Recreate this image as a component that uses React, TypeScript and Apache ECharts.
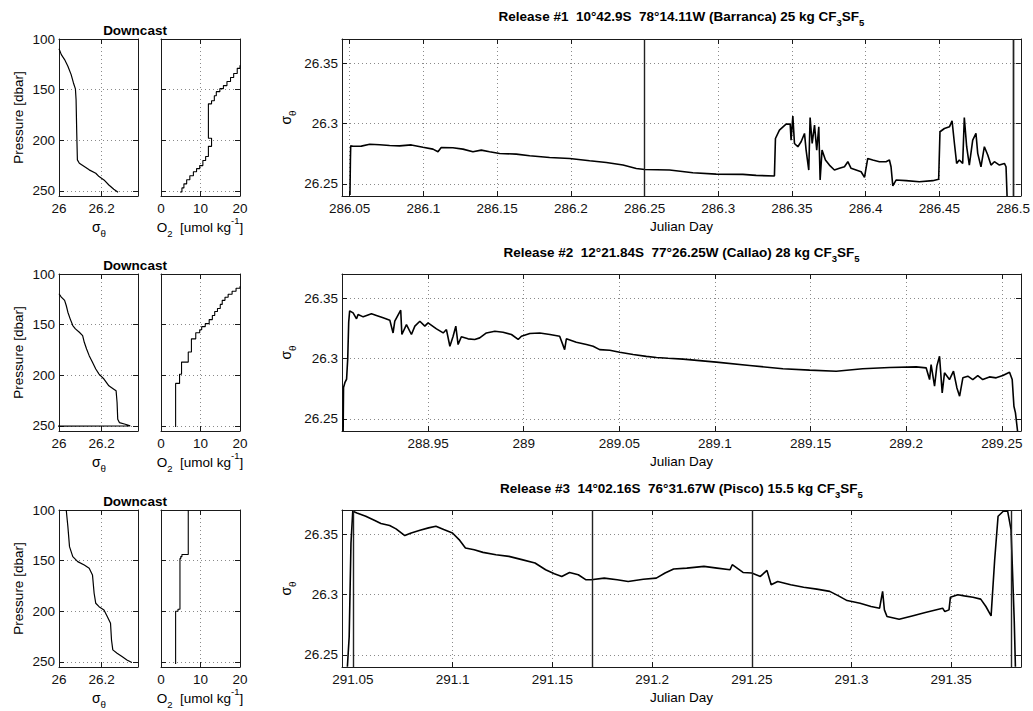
import React, { useEffect, useRef } from "react";
import * as echarts from "echarts";

const FONT = "'Liberation Sans', Arial, Helvetica, sans-serif";

// ---------------- data ----------------
const releaseTitles = [
  "Release #1  10°42.9S  78°14.11W (Barranca) 25 kg CF",
  "Release #2  12°21.84S  77°26.25W (Callao) 28 kg CF",
  "Release #3  14°02.16S  76°31.67W (Pisco) 15.5 kg CF",
];

const sigmaProfileTicks = [26, 26.2];
const pressureTicks = [100, 150, 200, 250];
const o2Ticks = [0, 10, 20];
const sigmaSeriesTicks = [26.25, 26.3, 26.35];
const release1DayTicks = [286.05, 286.1, 286.15, 286.2, 286.25, 286.3, 286.35, 286.4, 286.45, 286.5];
const release2DayTicks = [288.95, 289, 289.05, 289.1, 289.15, 289.2, 289.25];
const release3DayTicks = [291.05, 291.1, 291.15, 291.2, 291.25, 291.3, 291.35];

// [sigma_theta, pressure]
const profile1Sigma = [
  [26.0001, 109.7], [26.0109, 115.4], [26.0262, 120.3], [26.0416, 126.9], [26.0569, 135.2],
  [26.0677, 143.4], [26.0769, 149.3], [26.08, 159.9], [26.0831, 192.9], [26.0861, 219.3],
  [26.0953, 222.6], [26.1184, 225.9], [26.1414, 229.2], [26.1722, 232.5], [26.1875, 235.8],
  [26.2106, 239.1], [26.2336, 244.1], [26.2566, 248.3], [26.2766, 251.3],
];
const profile2Sigma = [
  [26.0001, 119.5], [26.0109, 122.8], [26.0262, 126.1], [26.0339, 131.1], [26.0416, 137.7],
  [26.0523, 144.3], [26.0646, 150.9], [26.0769, 154.2], [26.0953, 157.5], [26.1107, 160.8],
  [26.1184, 167.4], [26.1292, 174.0], [26.1414, 180.6], [26.1568, 187.2], [26.1722, 193.8],
  [26.1875, 198.8], [26.2106, 203.7], [26.2336, 210.4], [26.2566, 213.7], [26.2674, 215.3],
  [26.272, 226.9], [26.2751, 243.4], [26.2828, 246.7], [26.3104, 248.3], [26.3334, 250.0],
  [25.95, 250.3],
];
const profile3Sigma = [
  [26.0339, 100], [26.0416, 116.4], [26.0492, 136.2], [26.0569, 141.1], [26.0646, 146.0],
  [26.0877, 151.0], [26.1184, 154.3], [26.1414, 157.6], [26.1568, 164.1], [26.1645, 182.2],
  [26.1722, 192.1], [26.1875, 195.4], [26.2106, 198.7], [26.226, 205.2], [26.2413, 211.8],
  [26.2459, 228.3], [26.252, 238.1], [26.272, 241.4], [26.295, 244.7], [26.3181, 248.0],
  [26.3411, 250.6],
];

// [O2, pressure]
const profile1O2 = [
  [20.0, 126], [20.0, 129], [19.3, 129], [19.3, 134], [18.4, 134], [18.4, 138], [17.6, 138],
  [17.6, 142], [16.7, 142], [16.7, 146], [15.8, 146], [15.8, 149], [14.9, 149], [14.9, 152],
  [14.0, 152], [14.0, 156], [13.5, 156], [13.5, 161], [12.8, 161], [12.8, 164], [12.0, 164],
  [12.0, 198], [12.8, 198], [12.8, 206], [12.0, 206], [12.0, 216], [11.3, 216], [11.3, 220],
  [10.6, 220], [10.6, 225], [9.8, 225], [9.8, 228], [9.0, 228], [9.0, 231], [8.2, 231],
  [8.2, 235], [7.3, 235], [7.3, 239], [6.5, 239], [6.5, 243], [5.8, 243], [5.8, 247],
  [5.3, 247], [5.3, 251], [4.8, 251],
];
const profile2O2 = [
  [20.0, 112], [20.0, 114], [19.0, 114], [19.0, 117], [18.0, 117], [18.0, 120], [17.0, 120],
  [17.0, 123], [16.2, 123], [16.2, 126], [15.5, 126], [15.5, 130], [15.0, 130], [15.0, 134],
  [14.3, 134], [14.3, 137], [13.6, 137], [13.6, 141], [13.0, 141], [13.0, 145], [12.2, 145],
  [12.2, 149], [11.2, 149], [11.2, 152], [10.3, 152], [10.3, 155], [9.8, 155], [9.8, 158],
  [8.8, 158], [8.8, 164], [7.7, 164], [7.7, 177], [6.9, 177], [6.9, 187], [5.2, 187],
  [5.2, 199], [4.7, 199], [4.7, 208], [3.7, 208], [3.7, 251],
];
const profile3O2 = [
  [6.9, 100], [6.9, 144], [5.3, 144], [5.3, 146], [5.0, 146], [5.0, 148], [4.8, 148],
  [4.8, 198], [4.3, 198], [4.3, 200], [3.7, 200], [3.7, 252],
];

// [Julian day, sigma_theta]
const release1Series = [
  [286.0502, 26.2408], [286.0505, 26.27], [286.0507, 26.2815], [286.0523, 26.2812], [286.0579, 26.2813],
  [286.0636, 26.2829], [286.0704, 26.2824], [286.0771, 26.2818], [286.0839, 26.2815], [286.0918, 26.2823],
  [286.0997, 26.2804], [286.1065, 26.2788], [286.1099, 26.2766], [286.1121, 26.2802], [286.12, 26.2799],
  [286.1268, 26.2788], [286.1336, 26.2766], [286.1393, 26.278], [286.1449, 26.2766], [286.1517, 26.2752],
  [286.163, 26.2747], [286.1721, 26.2733], [286.1856, 26.2719], [286.1992, 26.2711], [286.2128, 26.2692],
  [286.2241, 26.2678], [286.2354, 26.2656], [286.2444, 26.2628], [286.2501, 26.262], [286.267, 26.2615],
  [286.2828, 26.2592], [286.2986, 26.2581], [286.3167, 26.2579], [286.3257, 26.2571], [286.3381, 26.2565],
  [286.3388, 26.2876], [286.3415, 26.2945], [286.346, 26.2995], [286.3488, 26.2995], [286.3494, 26.2863],
  [286.3506, 26.3061], [286.3517, 26.2835], [286.354, 26.2808], [286.3562, 26.2849], [286.3585, 26.2918],
  [286.3596, 26.278], [286.3614, 26.2615], [286.3623, 26.305], [286.3637, 26.2835], [286.3653, 26.2987],
  [286.3668, 26.278], [286.3682, 26.2973], [286.3691, 26.2532], [286.3704, 26.278], [286.3727, 26.2698],
  [286.3754, 26.2656], [286.3788, 26.2615], [286.3822, 26.2629], [286.3856, 26.2642], [286.3879, 26.2684],
  [286.3901, 26.2629], [286.3935, 26.2615], [286.3969, 26.2601], [286.3992, 26.2554], [286.4014, 26.2711],
  [286.4048, 26.2698], [286.4093, 26.2684], [286.4138, 26.2684], [286.4161, 26.2698], [286.4172, 26.2642],
  [286.4184, 26.2483], [286.4206, 26.2532], [286.4274, 26.2527], [286.4364, 26.2518], [286.4455, 26.2527],
  [286.4495, 26.2538], [286.4504, 26.2932], [286.4534, 26.2959], [286.4568, 26.2973], [286.4586, 26.3022],
  [286.4602, 26.2835], [286.4617, 26.267], [286.4635, 26.2698], [286.4658, 26.267], [286.4669, 26.305],
  [286.4685, 26.2808], [286.4703, 26.2656], [286.4726, 26.2863], [286.4748, 26.2918], [286.476, 26.2753],
  [286.4782, 26.2642], [286.4805, 26.2808], [286.4828, 26.2739], [286.485, 26.2656], [286.4873, 26.2684],
  [286.4907, 26.2656], [286.4941, 26.267], [286.4952, 26.2642], [286.4959, 26.24],
];
const release2Series = [
  [288.9056, 26.24], [288.9058, 26.276], [288.9065, 26.28], [288.9074, 26.283], [288.908, 26.3],
  [288.9085, 26.33], [288.909, 26.3395], [288.9108, 26.3378], [288.9126, 26.3329], [288.9134, 26.3364],
  [288.9161, 26.3345], [288.9204, 26.337], [288.923, 26.3356], [288.9265, 26.3337], [288.93, 26.3318],
  [288.9317, 26.3212], [288.9326, 26.3309], [288.9357, 26.34], [288.9363, 26.3199], [288.9387, 26.3281],
  [288.9413, 26.3199], [288.9431, 26.3268], [288.9457, 26.3309], [288.9483, 26.3268], [288.95, 26.3295],
  [288.9544, 26.3246], [288.9579, 26.3212], [288.9596, 26.324], [288.9614, 26.3102], [288.9631, 26.3185],
  [288.9645, 26.3268], [288.9657, 26.3116], [288.9674, 26.318], [288.9709, 26.3163], [288.9744, 26.3158],
  [288.977, 26.3171], [288.9805, 26.3212], [288.9849, 26.3226], [288.9892, 26.3218], [288.9936, 26.3199],
  [288.9971, 26.3158], [288.9988, 26.3185], [289.0032, 26.3207], [289.0084, 26.3212], [289.0137, 26.3199],
  [289.0188, 26.3185], [289.0214, 26.3074], [289.0223, 26.3163], [289.0275, 26.3135], [289.0328, 26.3116],
  [289.0363, 26.3102], [289.0397, 26.3074], [289.045, 26.3069], [289.0502, 26.3052], [289.0572, 26.3033],
  [289.0641, 26.3018], [289.0694, 26.3008], [289.0755, 26.3002], [289.0833, 26.2995], [289.1007, 26.297],
  [289.1181, 26.2943], [289.1355, 26.2915], [289.1495, 26.2904], [289.1634, 26.2895], [289.1772, 26.2915],
  [289.1912, 26.2926], [289.2052, 26.2931], [289.2104, 26.2923], [289.2122, 26.2826], [289.213, 26.295],
  [289.2148, 26.2771], [289.216, 26.2937], [289.2174, 26.3019], [289.2188, 26.2716], [289.22, 26.2882],
  [289.2226, 26.2826], [289.2247, 26.2895], [289.2265, 26.2757], [289.2279, 26.2688], [289.2296, 26.284],
  [289.2322, 26.2854], [289.2348, 26.2826], [289.2374, 26.2859], [289.24, 26.2826], [289.2435, 26.2848],
  [289.247, 26.284], [289.2505, 26.2859], [289.254, 26.2887], [289.2554, 26.2826], [289.2563, 26.2605],
  [289.2571, 26.255], [289.2582, 26.24],
];
const release3Series = [
  [291.0472, 26.2402], [291.0481, 26.2651], [291.049, 26.3427], [291.0499, 26.369], [291.052, 26.3676],
  [291.0564, 26.3648], [291.0607, 26.3615], [291.064, 26.3588], [291.0684, 26.3571], [291.0716, 26.3544],
  [291.076, 26.3488], [291.0792, 26.351], [291.0836, 26.3532], [291.0879, 26.3552], [291.0916, 26.3566],
  [291.0955, 26.3538], [291.0999, 26.351], [291.1032, 26.3455], [291.1064, 26.3385], [291.1108, 26.3371],
  [291.1152, 26.3349], [291.1217, 26.333], [291.1282, 26.3316], [291.1347, 26.3289], [291.1413, 26.3261],
  [291.1466, 26.3205], [291.151, 26.3172], [291.1547, 26.315], [291.1586, 26.3183], [291.163, 26.3164],
  [291.1669, 26.3122], [291.1695, 26.3122], [291.176, 26.3136], [291.1825, 26.3122], [291.188, 26.3108],
  [291.1956, 26.3127], [291.2021, 26.3136], [291.2065, 26.3178], [291.2108, 26.3211], [291.2174, 26.3219],
  [291.226, 26.3233], [291.2326, 26.3219], [291.2391, 26.3205], [291.2402, 26.3247], [291.2456, 26.3183],
  [291.25, 26.3178], [291.2543, 26.315], [291.2576, 26.32], [291.2597, 26.3081], [291.263, 26.3108],
  [291.2695, 26.3081], [291.276, 26.3061], [291.2826, 26.3045], [291.2891, 26.3026], [291.2935, 26.2989],
  [291.2978, 26.295], [291.3043, 26.2928], [291.3098, 26.2901], [291.3141, 26.2887], [291.3156, 26.3026],
  [291.3165, 26.2873], [291.3178, 26.2818], [291.3239, 26.2795], [291.3304, 26.2823], [291.337, 26.2851],
  [291.3457, 26.2887], [291.3468, 26.2859], [291.3489, 26.2873], [291.3496, 26.2978], [291.3533, 26.2998],
  [291.3566, 26.2989], [291.3609, 26.2978], [291.3648, 26.2962], [291.3674, 26.2901], [291.37, 26.2823],
  [291.3718, 26.3288], [291.3735, 26.3648], [291.3761, 26.369], [291.3783, 26.369], [291.38, 26.3538],
  [291.3816, 26.279], [291.3822, 26.2402],
];

// vertical cast markers (Julian day)
const release1Marks = [286.25, 286.4993, 286.5009];
const release2Marks: number[] = [];
const release3Marks = [291.0502, 291.1676, 291.25, 291.3808];

// ---------------- layout ----------------
const ROW_TOPS = [39, 274, 510];
const ROW_H = 157;

function fmt(v: number) {
  return String(v);
}

function makeAxis(dim: "x" | "y", position: string, gridIndex: number, min: number, max: number,
  ticks: number[], labels: boolean, split: boolean, inverse: boolean) {
  return {
    type: "value",
    gridIndex,
    position,
    min,
    max,
    inverse,
    axisLine: { show: true, onZero: false, lineStyle: { color: "#1a1a1a", width: 1 } },
    axisTick: { show: true, inside: true, length: 5, customValues: ticks, lineStyle: { color: "#1a1a1a", width: 1 } },
    axisLabel: {
      show: labels,
      customValues: ticks,
      formatter: fmt,
      fontSize: 13.5,
      fontFamily: FONT,
      color: "#111",
      margin: dim === "x" ? 5 : 4,
    },
    splitLine: { show: split, lineStyle: { color: "#8a8a8a", width: 1, type: [1, 3] } },
  };
}

type Panel = {
  left: number; top: number; width: number; height: number;
  xMin: number; xMax: number; xTicks: number[];
  yMin: number; yMax: number; yTicks: number[]; yInverse: boolean; yLabels: boolean;
  data: number[][]; marks: number[]; lw: number;
};

function buildPanels(): Panel[] {
  const panels: Panel[] = [];
  const sig = [profile1Sigma, profile2Sigma, profile3Sigma];
  const oxy = [profile1O2, profile2O2, profile3O2];
  const rel = [release1Series, release2Series, release3Series];
  const relTicks = [release1DayTicks, release2DayTicks, release3DayTicks];
  const relRange = [[286.0448, 286.5052], [288.905, 289.26], [291.0445, 291.385]];
  const relMarks = [release1Marks, release2Marks, release3Marks];
  for (let r = 0; r < 3; r++) {
    const top = ROW_TOPS[r];
    panels.push({ left: 59, top, width: 79, height: ROW_H, xMin: 26, xMax: 26.37, xTicks: sigmaProfileTicks,
      yMin: 100, yMax: 255, yTicks: pressureTicks, yInverse: true, yLabels: true, data: sig[r], marks: [], lw: 1.2 });
    panels.push({ left: 161, top, width: 79, height: ROW_H, xMin: 0, xMax: 20, xTicks: o2Ticks,
      yMin: 100, yMax: 255, yTicks: pressureTicks, yInverse: true, yLabels: false, data: oxy[r], marks: [], lw: 1.1 });
    panels.push({ left: 342, top, width: 679, height: ROW_H, xMin: relRange[r][0], xMax: relRange[r][1], xTicks: relTicks[r],
      yMin: 26.24, yMax: 26.37, yTicks: sigmaSeriesTicks, yInverse: false, yLabels: true, data: rel[r], marks: relMarks[r], lw: 1.6 });
  }
  return panels;
}

// rich text with subscript (s) / superscript (p); normal (n) centred in the line box
function richSub(size: number, bold: boolean) {
  const w = bold ? "bold" : "normal";
  const L = size + 9;
  const small = Math.round(size * 0.7 * 10) / 10;
  return {
    n: { fontSize: size, fontFamily: FONT, fontWeight: w, lineHeight: L, verticalAlign: "middle", fill: "#000" },
    s: { fontSize: small, fontFamily: FONT, fontWeight: w, lineHeight: L, verticalAlign: "bottom", fill: "#000" },
    p: { fontSize: small, fontFamily: FONT, fontWeight: w, lineHeight: L, verticalAlign: "top", fill: "#000" },
  };
}

function text(x: number, y: number, t: string, extra: any = {}, rotation = 0) {
  return {
    type: "text",
    x,
    y,
    rotation,
    silent: true,
    style: Object.assign(
      { text: t, fill: "#000", align: "center", verticalAlign: "middle", fontSize: 13.5, fontFamily: FONT },
      extra
    ),
  };
}

function buildOption() {
  const panels = buildPanels();
  const grid: any[] = [];
  const xAxis: any[] = [];
  const yAxis: any[] = [];
  const series: any[] = [];
  panels.forEach((p, i) => {
    grid.push({ left: p.left, top: p.top, width: p.width, height: p.height, show: false });
    xAxis.push(makeAxis("x", "bottom", i, p.xMin, p.xMax, p.xTicks, true, true, false));
    xAxis.push(makeAxis("x", "top", i, p.xMin, p.xMax, p.xTicks, false, false, false));
    yAxis.push(makeAxis("y", "left", i, p.yMin, p.yMax, p.yTicks, p.yLabels, true, p.yInverse));
    yAxis.push(makeAxis("y", "right", i, p.yMin, p.yMax, p.yTicks, false, false, p.yInverse));
    series.push({
      type: "line",
      xAxisIndex: 2 * i,
      yAxisIndex: 2 * i,
      data: p.data,
      symbol: "none",
      showSymbol: false,
      silent: true,
      clip: true,
      lineStyle: { color: "#000", width: p.lw },
      markLine: p.marks.length
        ? {
            silent: true,
            symbol: ["none", "none"],
            label: { show: false },
            lineStyle: { color: "#222", type: "solid", width: 1.4 },
            data: p.marks.map((m) => ({ xAxis: m })),
          }
        : undefined,
    });
  });

  const graphics: any[] = [];
  const titleCentersY = [16, 252.7, 488.3];
  for (let r = 0; r < 3; r++) {
    const top = ROW_TOPS[r];
    const mid = top + ROW_H / 2;
    // right panel title
    graphics.push(
      text(681.5, titleCentersY[r], `{n|${releaseTitles[r]}}{s|3}{n|SF}{s|5}`, { rich: richSub(13.5, true) })
    );
    // Julian Day
    graphics.push(text(681.5, top + ROW_H + 30, "Julian Day"));
    // sigma y label on right panels (rotated)
    graphics.push(text(286, mid, "{n|σ}{s|θ}", { rich: richSub(14, false) }, Math.PI / 2));
    // Downcast
    graphics.push(text(135, top - 9, "Downcast", { fontWeight: "bold" }));
    // Pressure label
    graphics.push(text(18.5, mid, "Pressure [dbar]", {}, Math.PI / 2));
    // sigma x label
    graphics.push(text(99, top + ROW_H + 31, "{n|σ}{s|θ}", { rich: richSub(14, false) }));
    // O2 label
    graphics.push(
      text(200, top + ROW_H + 31, "{n|O}{s|2}{n|  [umol kg}{p|-1}{n|]}", { rich: richSub(13.5, false) })
    );
  }

  return {
    animation: false,
    backgroundColor: "#fff",
    grid,
    xAxis,
    yAxis,
    series,
    graphic: { elements: graphics },
  };
}

export default function App() {
  const ref = useRef<HTMLDivElement>(null);
  useEffect(() => {
    document.body.style.margin = "0";
    const chart = echarts.init(ref.current as HTMLDivElement, null, { renderer: "svg" });
    chart.setOption(buildOption() as any);
    return () => chart.dispose();
  }, []);
  return (
    <div
      ref={ref}
      style={{ position: "absolute", left: 0, top: 0, width: 1033, height: 711, background: "#fff" }}
    />
  );
}
